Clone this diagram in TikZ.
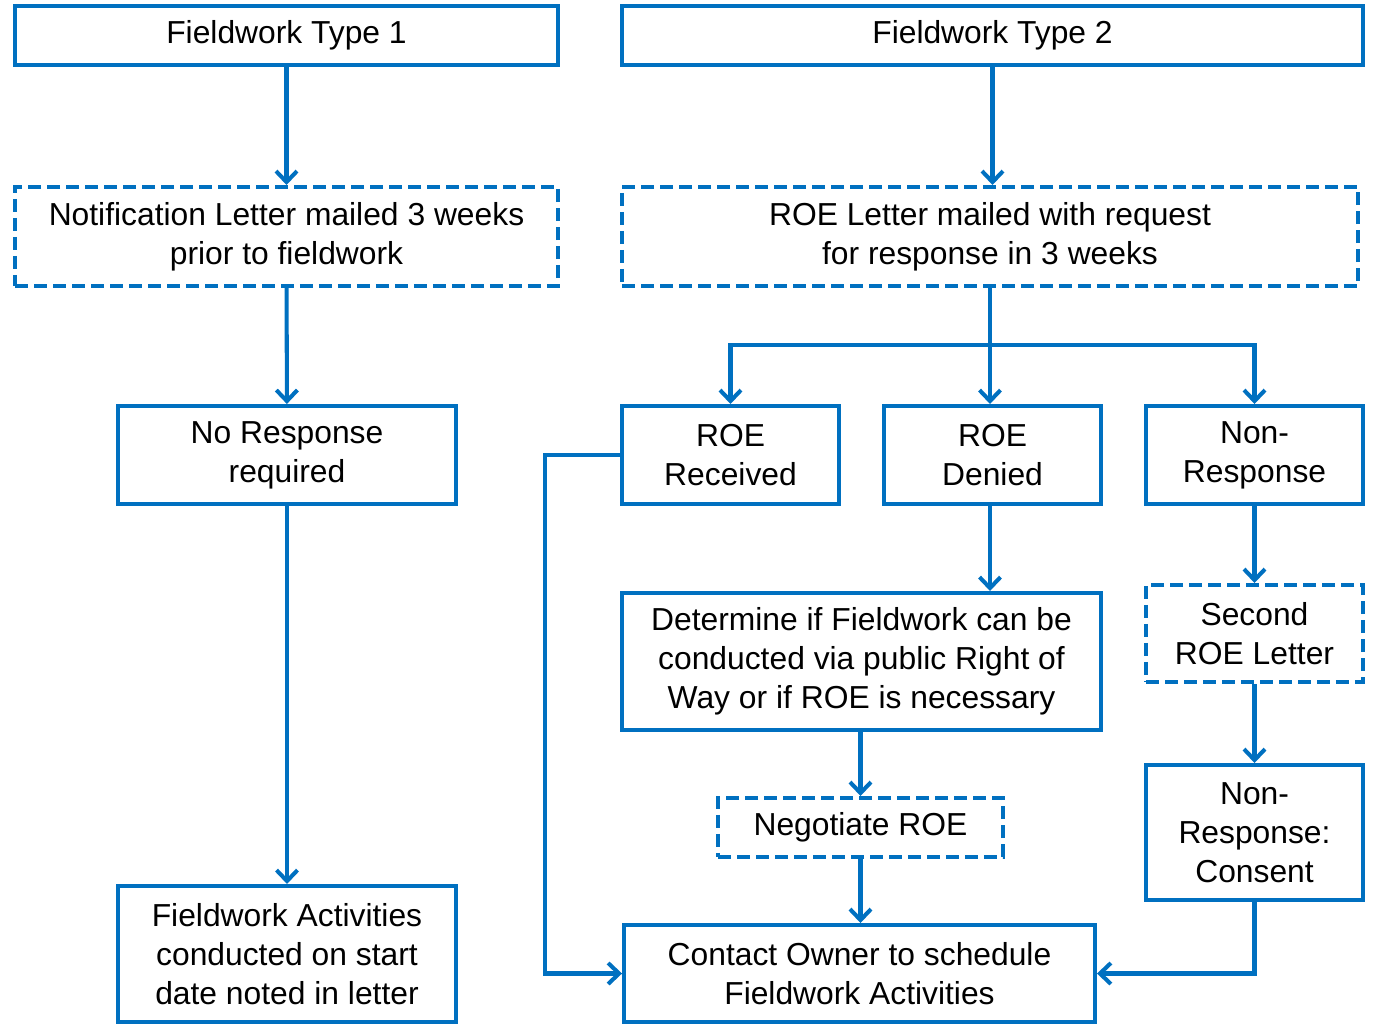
\documentclass[tikz,border=0pt]{standalone}
\usepackage{fontspec}
\setmainfont{Liberation Sans}
\usepackage{tikz}
\usetikzlibrary{positioning, arrows.meta, calc}
\definecolor{roeblue}{HTML}{0070C0}

\begin{document}
\begin{tikzpicture}[
    x=0.02cm, y=-0.02cm,
    box/.style={rectangle, draw=roeblue, line width=2.3pt, align=center, inner sep=0pt,
        font=\fontsize{18.1}{22.2}\selectfont},
    dbox/.style={box, dash pattern=on 0.26cm off 0.12cm},
    arrow/.style={draw=roeblue, line width=2.3pt, -{Straight Barb[length=0.22cm, width=0.42cm, line width=2.3pt]}},
    link/.style={draw=roeblue, line width=2.3pt}
]
\useasboundingbox (0,0) rectangle (1375,1031);

% Left branch
\node[box, minimum width=10.86cm, minimum height=1.18cm] (type1) at (286.5,35.5) {Fieldwork Type 1};
\node[dbox, minimum width=10.86cm, minimum height=1.98cm] (notif) at (286.5,236.5) {Notification Letter mailed 3 weeks\\prior to fieldwork};
\node[box, minimum width=6.76cm, minimum height=1.96cm] (noresp) at (287,455) {No Response\\required};
\node[box, minimum width=6.76cm, minimum height=2.72cm] (fwact) at (287,954) {Fieldwork Activities\\conducted on start\\date noted in letter};

% Right branch
\node[box, minimum width=14.82cm, minimum height=1.18cm] (type2) at (992.5,35.5) {Fieldwork Type 2};
\node[dbox, minimum width=14.72cm, minimum height=1.98cm] (roeletter) at (990,236.5) {ROE Letter mailed with request\\for response in 3 weeks};
\node[box, minimum width=4.34cm, minimum height=1.96cm] (received) at (730.5,455) {ROE\\Received};
\node[box, minimum width=4.34cm, minimum height=1.96cm] (denied) at (992.5,455) {ROE\\Denied};
\node[box, minimum width=4.34cm, minimum height=1.96cm] (nonresp) at (1254.5,455) {Non-\\Response};
\node[box, minimum width=9.58cm, minimum height=2.74cm] (determine) at (861.5,661.5) {Determine if Fieldwork can be\\conducted via public Right of\\Way or if ROE is necessary};
\node[dbox, minimum width=4.34cm, minimum height=1.94cm] (second) at (1254.5,633.5) {Second\\ROE Letter};
\node[dbox, minimum width=5.70cm, minimum height=1.18cm] (negotiate) at (860.5,827.5) {Negotiate ROE};
\node[box, minimum width=4.34cm, minimum height=2.70cm] (consent) at (1254.5,832.5) {Non-\\Response:\\Consent};
\node[box, minimum width=9.42cm, minimum height=1.94cm] (contact) at (859.5,973.5) {Contact Owner to schedule\\Fieldwork Activities};

\coordinate (split) at (990,345);

% Connectors
\draw[arrow] (type1) -- (notif);
\draw[arrow] (notif) -- (noresp);
\draw[arrow] (noresp) -- (fwact);
\draw[arrow] (type2.south) -- (type2.south |- roeletter.north);
\draw[link] (roeletter.south) -- (split);
\draw[arrow] (split) -| (received.north);
\draw[arrow] (split) -| (nonresp.north);
\draw[arrow] (split) -- (split |- denied.north);
\draw[arrow] (split |- denied.south) -- (split |- determine.north);
\draw[arrow] (determine.south -| negotiate.north) -- (negotiate.north);
\draw[arrow] (negotiate) -- (negotiate.south |- contact.north);
\draw[arrow] (nonresp) -- (second);
\draw[arrow] (second) -- (consent);
\draw[arrow] (received.west) -- ++(-75,0) |- (contact.west);
\draw[arrow] (consent.south) |- (contact.east);
\end{tikzpicture}
\end{document}
